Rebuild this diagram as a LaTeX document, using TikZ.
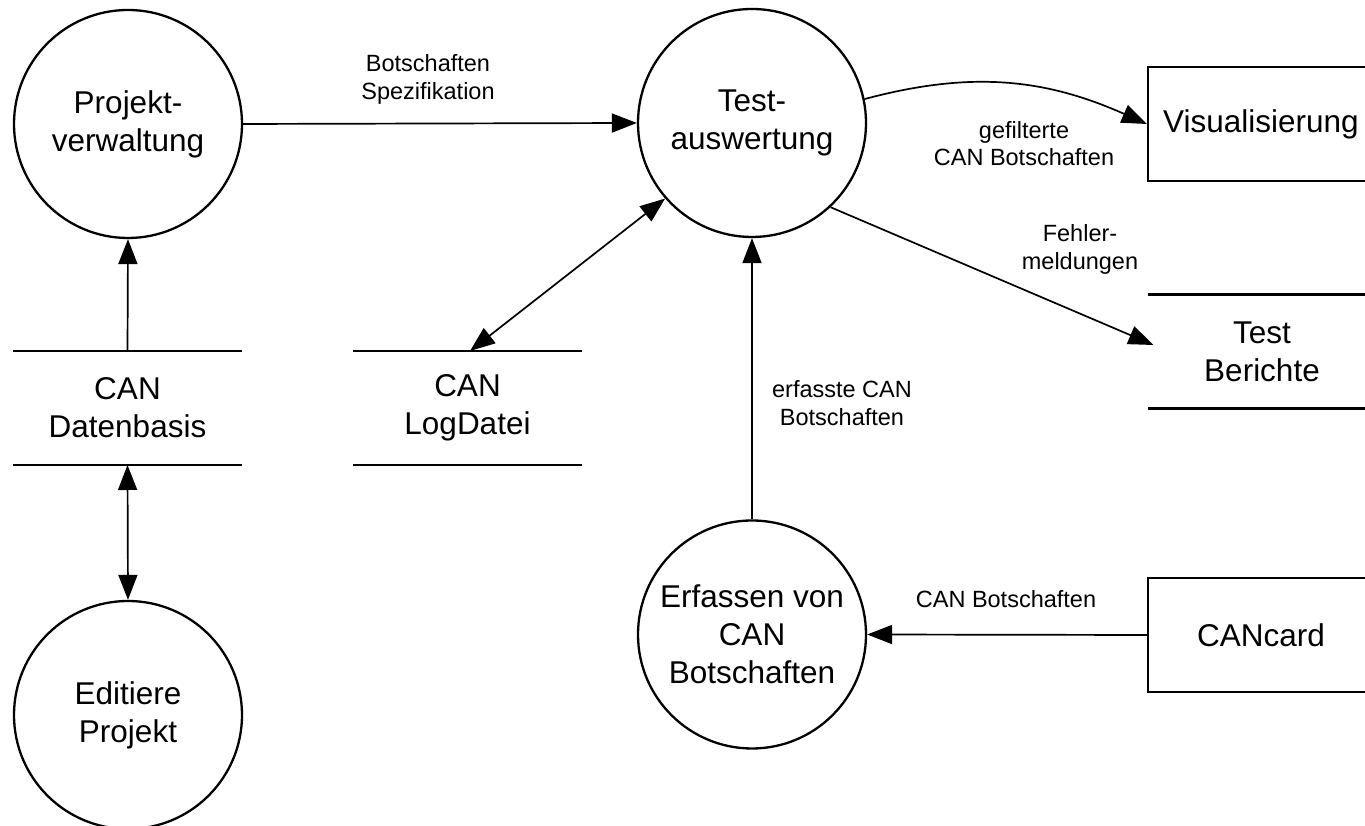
\documentclass[tikz,border=0pt]{standalone}
\usepackage{fontspec}
\setmainfont{Liberation Sans}
\usetikzlibrary{arrows.meta}

\begin{document}
\begin{tikzpicture}[x=1pt,y=1pt,
  bigtext/.style={font=\fontsize{31.5}{38}\selectfont},
  proc/.style={circle, draw, line width=2.3pt, minimum size=228pt, inner sep=0pt, align=center, bigtext},
  ext/.style={rectangle, draw, line width=2.4pt, minimum width=226pt, minimum height=114pt, inner sep=0pt, align=center, bigtext},
  store/.style={rectangle, minimum width=229pt, minimum height=114pt, inner sep=0pt, outer sep=0pt, align=center, bigtext},
  storeline/.style={line width=2.4pt},
  head/.style={Triangle[length=25pt,width=19pt]},
  flow/.style={line width=1.7pt, -{Triangle[length=25pt,width=19pt]}},
  biflow/.style={line width=1.7pt, {Triangle[length=25pt,width=19pt]}-{Triangle[length=25pt,width=19pt]}},
  lab/.style={align=center, inner sep=0pt, font=\fontsize{23.5}{27.5}\selectfont}
]
\clip (0,0) rectangle (1365,826);

% processes
\node[proc] (pv) at (128,702)   {Projekt-\\verwaltung};
\node[proc] (ta) at (752,703)   {Test-\\auswertung};
\node[proc] (er) at (752,191.5) {Erfassen von\\CAN\\Botschaften};
\node[proc] (ep) at (128,111)   {Editiere\\Projekt};

% external entities
\node[ext] (vis) at (1261,702) {Visualisierung};
\node[ext] (cc)  at (1261,191) {CANcard};

% data stores
\node[store] (db)  at (127.5,418) {CAN\\Datenbasis};
\node[store] (log) at (467.5,418) {CAN\\LogDatei};
\node[store] (tb)  at (1262,474.5) {Test\\Berichte};
\foreach \s in {db,log,tb}{
  \draw[storeline] (\s.north west) -- (\s.north east);
  \draw[storeline] (\s.south west) -- (\s.south east);
}

% data flows
\draw[flow]   (pv.east) -- (ta.west);
\draw[flow]   (db.north) -- (pv.south);
\draw[biflow] (db.south) -- (ep.north);
\draw[biflow] ([xshift=2.5pt]log.north) -- (ta.221);
\draw[flow]   (er.north) -- (ta.south);
\draw[flow]   (cc.west) -- (er.east);
\draw[flow]   (ta.12) to[out=15, in=156] (vis.west);
\draw[flow]   (ta.-47) -- ([xshift=6pt,yshift=6.5pt]tb.west);

% flow labels
\node[lab] (l1) at (428,746.5)  {Botschaften\\Spezifikation};
\node[lab] (l2) at (1024,682.5) {gefilterte\\CAN Botschaften};
\node[lab] (l3) at (1080,576.5) {Fehler-\\meldungen};
\node[lab] (l4) at (842,423)    {erfasste CAN\\Botschaften};
\node[lab] (l5) at (1006,226.5) {CAN Botschaften};
\end{tikzpicture}
\end{document}
